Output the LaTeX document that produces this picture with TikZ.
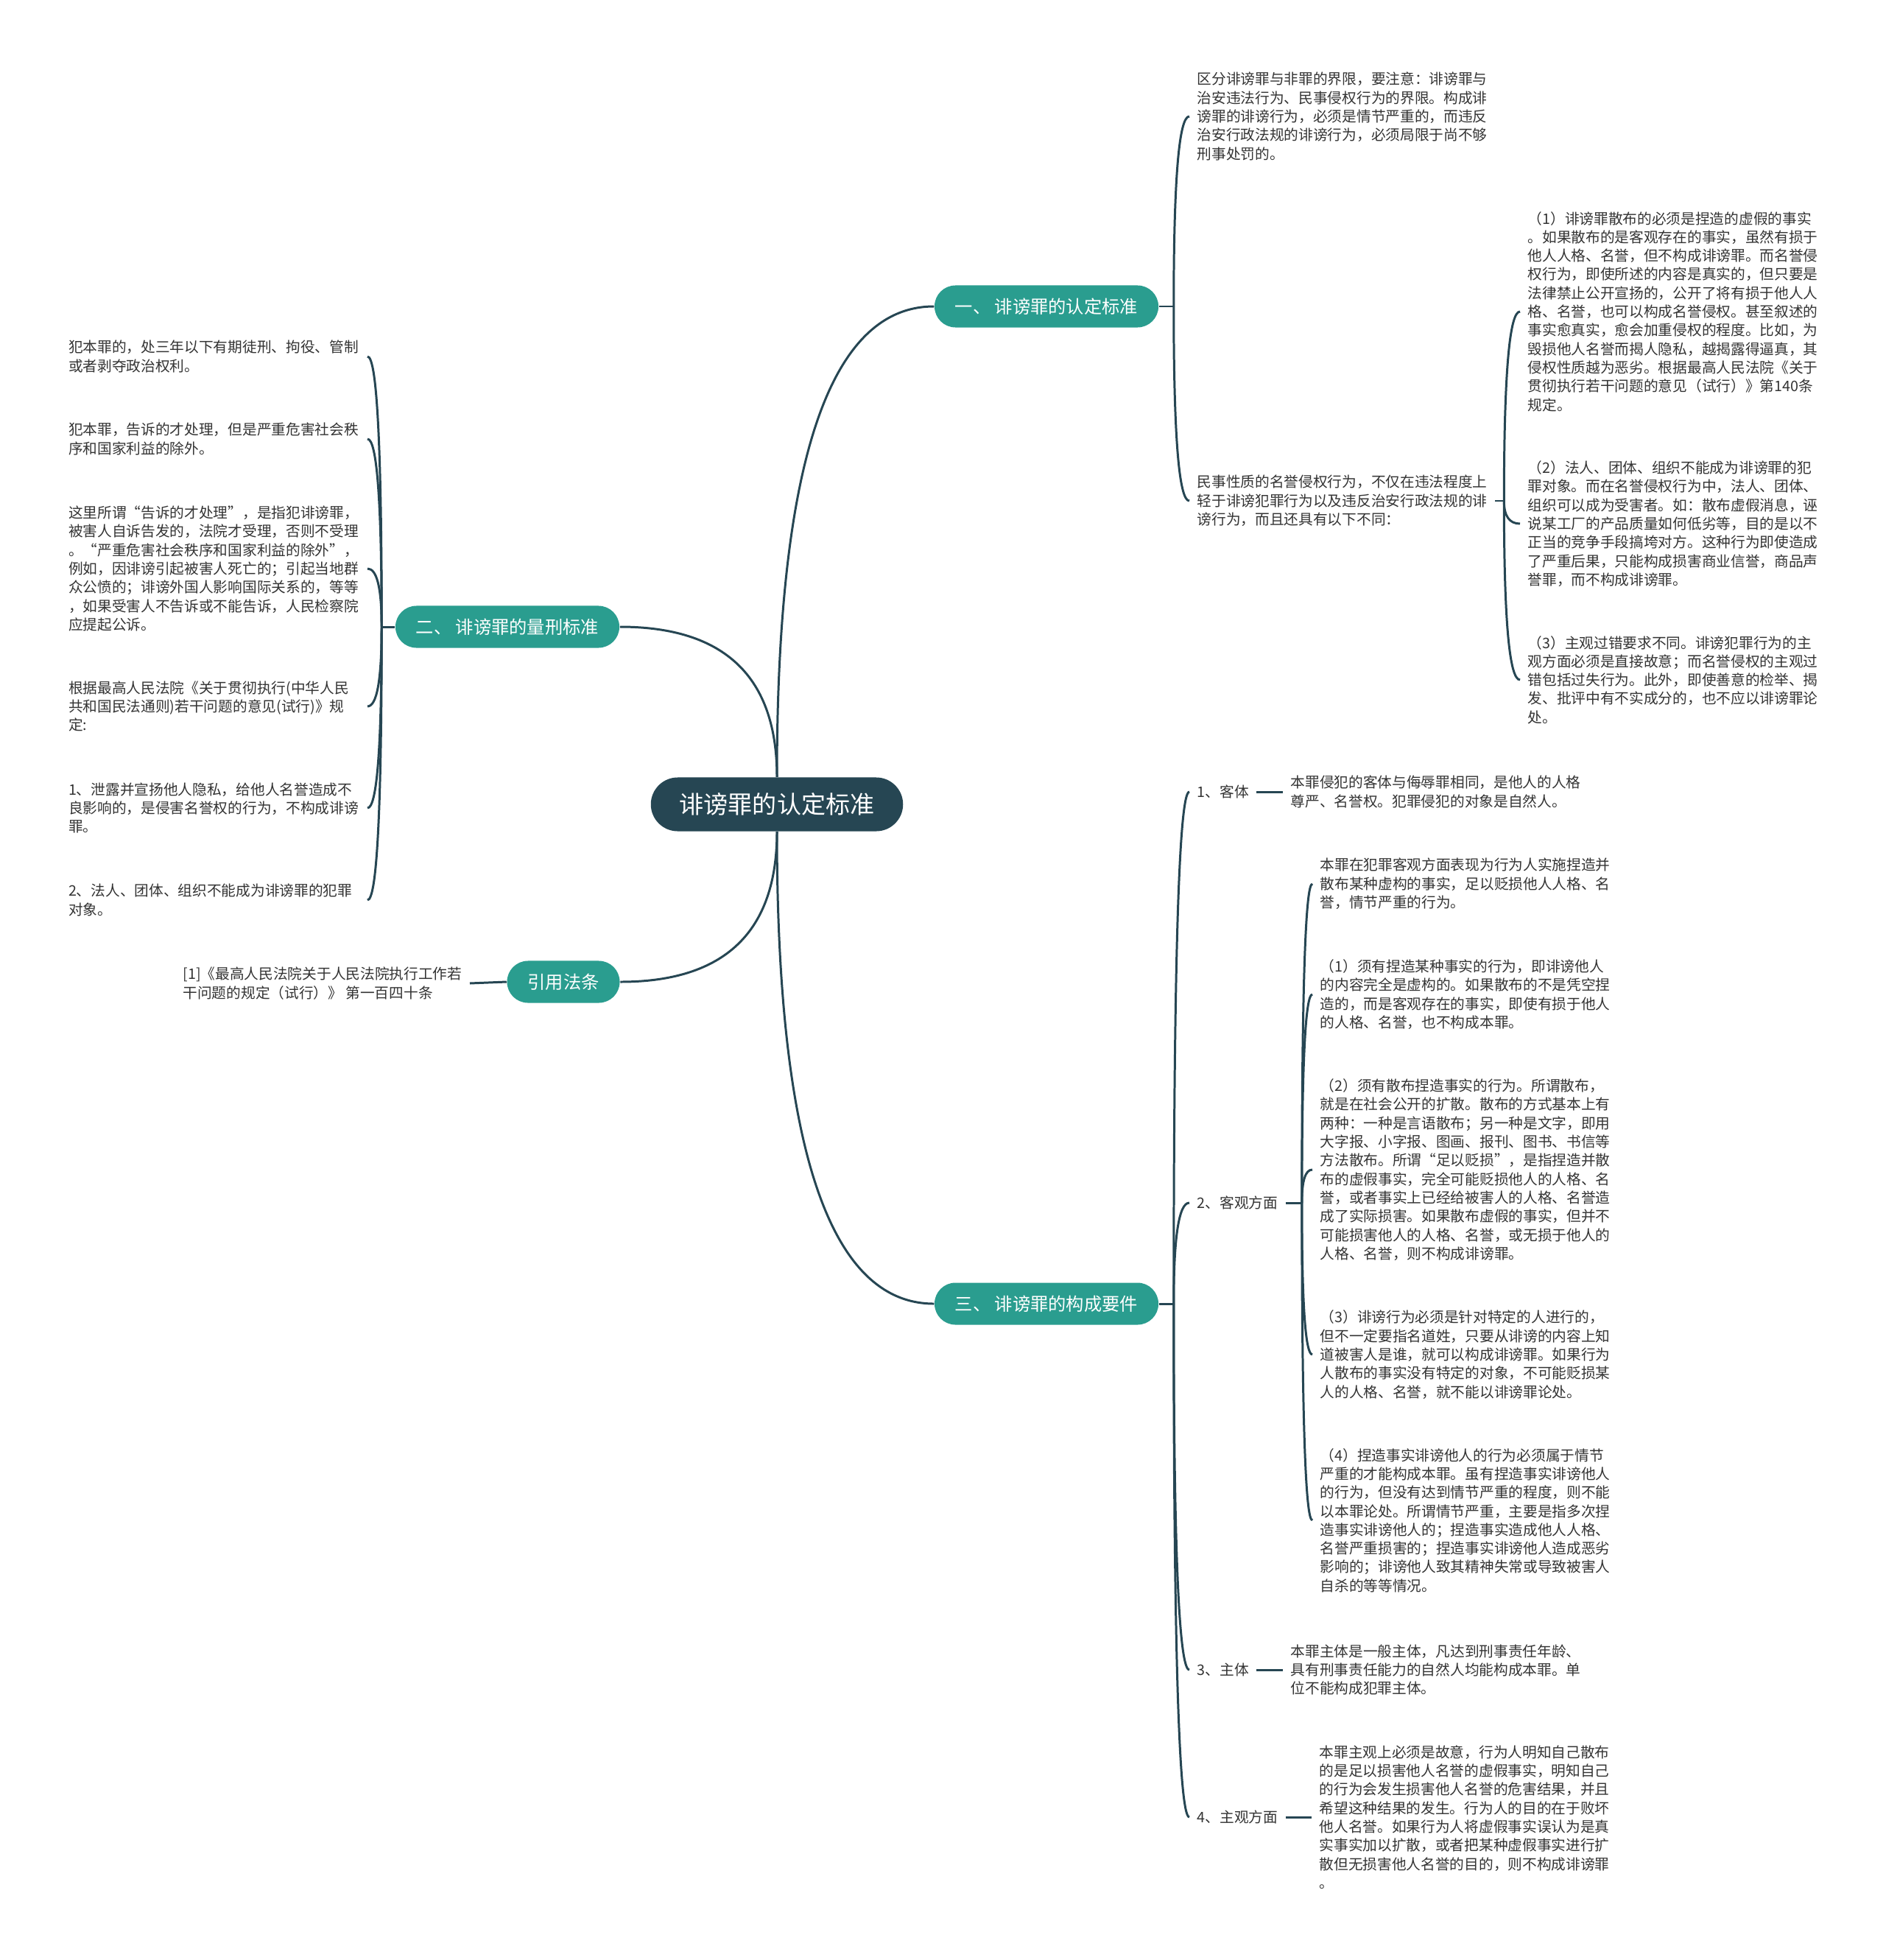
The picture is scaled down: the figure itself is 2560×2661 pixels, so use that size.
\documentclass[tikz,border=0pt]{standalone}
\usepackage{fontspec}
\setmainfont{Noto Sans CJK SC}
\usepackage{xcolor}
\usetikzlibrary{calc}
\definecolor{rootcol}{RGB}{38,70,83}
\definecolor{mapgreen}{RGB}{42,157,143}
\newcommand{\txtfont}{\fontsize{5.6pt}{7.2pt}\selectfont}
\newcommand{\curvelink}[2]{\draw[link] (#1) .. controls ($(#1)!0.667!(#1 |- #2)$) and ($(#2)!0.667!(#1 |- #2)$) .. (#2);}

\begin{document}
\begin{tikzpicture}[x=0.01cm,y=-0.01cm,
  root/.style={fill=rootcol,text=white,rounded corners=0.365cm,minimum height=0.73cm,
               inner xsep=0.39cm,font=\fontsize{9.4pt}{11pt}\selectfont},
  branch/.style={fill=mapgreen,text=white,rounded corners=0.285cm,minimum height=0.57cm,
                 inner xsep=0.28cm,font=\fontsize{6.9pt}{8pt}\selectfont},
  txt/.style={align=left,inner xsep=0.1cm,inner ysep=0.05cm,font=\txtfont,text=black!80},
  ltxt/.style={txt,text width=4cm,inner xsep=0.05cm},
  link/.style={draw=rootcol,line width=0.85pt}]
\useasboundingbox (0,0) rectangle (2560,2661);

% centre and main branches
\node[root] (root) at (1055,1092) {诽谤罪的认定标准};
\node[branch] (b1) at (1421,416) {一、 诽谤罪的认定标准};
\node[branch] (b2) at (689,851) {二、 诽谤罪的量刑标准};
\node[branch] (b3) at (1421,1770) {三、 诽谤罪的构成要件};
\node[branch] (b4) at (765,1333) {引用法条};
\curvelink{root.north}{b1.west}
\curvelink{root.north}{b2.east}
\curvelink{root.south}{b3.west}
\curvelink{root.south}{b4.east}

% branch 1
\node[txt,anchor=west] (t1a) at (1615,158) {区分诽谤罪与非罪的界限，要注意：诽谤罪与\\治安违法行为、民事侵权行为的界限。构成诽\\谤罪的诽谤行为，必须是情节严重的，而违反\\治安行政法规的诽谤行为，必须局限于尚不够\\刑事处罚的。};
\node[txt,anchor=west] (t1b) at (1615,680) {民事性质的名誉侵权行为，不仅在违法程度上\\轻于诽谤犯罪行为以及违反治安行政法规的诽\\谤行为，而且还具有以下不同：};
\coordinate (j1) at ($(b1.east)+(20,0)$);
\draw[link] (b1.east) -- (j1);
\curvelink{j1}{t1a.west}
\curvelink{j1}{t1b.west}

\node[txt,anchor=west] (t2a) at (2064,423) {（1）诽谤罪散布的必须是捏造的虚假的事实\\。如果散布的是客观存在的事实，虽然有损于\\他人人格、名誉，但不构成诽谤罪。而名誉侵\\权行为，即使所述的内容是真实的，但只要是\\法律禁止公开宣扬的，公开了将有损于他人人\\格、名誉，也可以构成名誉侵权。甚至叙述的\\事实愈真实，愈会加重侵权的程度。比如，为\\毁损他人名誉而揭人隐私，越揭露得逼真，其\\侵权性质越为恶劣。根据最高人民法院《关于\\贯彻执行若干问题的意见（试行）》第140条\\规定。};
\node[txt,anchor=west] (t2b) at (2064,711) {（2）法人、团体、组织不能成为诽谤罪的犯\\罪对象。而在名誉侵权行为中，法人、团体、\\组织可以成为受害者。如：散布虚假消息，诬\\说某工厂的产品质量如何低劣等，目的是以不\\正当的竞争手段搞垮对方。这种行为即使造成\\了严重后果，只能构成损害商业信誉，商品声\\誉罪，而不构成诽谤罪。};
\node[txt,anchor=west] (t2c) at (2064,923) {（3）主观过错要求不同。诽谤犯罪行为的主\\观方面必须是直接故意；而名誉侵权的主观过\\错包括过失行为。此外，即使善意的检举、揭\\发、批评中有不实成分的，也不应以诽谤罪论\\处。};
\coordinate (j1b) at ($(t1b.east)+(12,0)$);
\draw[link] (t1b.east) -- (j1b);
\curvelink{j1b}{t2a.west}
\curvelink{j1b}{t2b.west}
\curvelink{j1b}{t2c.west}

% branch 2
\node[ltxt,anchor=east] (l1) at (499,484) {犯本罪的，处三年以下有期徒刑、拘役、管制\\或者剥夺政治权利。};
\node[ltxt,anchor=east] (l2) at (499,596) {犯本罪，告诉的才处理，但是严重危害社会秩\\序和国家利益的除外。};
\node[ltxt,anchor=east] (l3) at (499,772) {这里所谓“告诉的才处理”，是指犯诽谤罪，\\被害人自诉告发的，法院才受理，否则不受理\\。“严重危害社会秩序和国家利益的除外”，\\例如，因诽谤引起被害人死亡的；引起当地群\\众公愤的；诽谤外国人影响国际关系的，等等\\，如果受害人不告诉或不能告诉，人民检察院\\应提起公诉。};
\node[ltxt,anchor=east] (l4) at (499,959) {根据最高人民法院《关于贯彻执行(中华人民\\共和国民法通则)若干问题的意见(试行)》规\\定:};
\node[ltxt,anchor=east] (l5) at (499,1097) {1、泄露并宣扬他人隐私，给他人名誉造成不\\良影响的，是侵害名誉权的行为，不构成诽谤\\罪。};
\node[ltxt,anchor=east] (l6) at (499,1222) {2、法人、团体、组织不能成为诽谤罪的犯罪\\对象。};
\coordinate (j2) at ($(b2.west)+(-18,0)$);
\draw[link] (b2.west) -- (j2);
\curvelink{j2}{l1.east}
\curvelink{j2}{l2.east}
\curvelink{j2}{l3.east}
\curvelink{j2}{l4.east}
\curvelink{j2}{l5.east}
\curvelink{j2}{l6.east}

% branch 4
\node[txt,anchor=east] (r1) at (638,1335) {[1]《最高人民法院关于人民法院执行工作若\\干问题的规定（试行）》 第一百四十条};
\draw[link] (b4.west) -- (r1.east);

% branch 3
\node[txt,anchor=west] (k1) at (1615,1075) {1、客体};
\node[txt,anchor=west] (k2) at (1615,1633) {2、客观方面};
\node[txt,anchor=west] (k3) at (1615,2267) {3、主体};
\node[txt,anchor=west] (k4) at (1615,2467) {4、主观方面};
\coordinate (j3) at ($(b3.east)+(20,0)$);
\draw[link] (b3.east) -- (j3);
\curvelink{j3}{k1.west}
\curvelink{j3}{k2.west}
\curvelink{j3}{k3.west}
\curvelink{j3}{k4.west}

\node[txt,anchor=west] (k1t) at (1742,1075) {本罪侵犯的客体与侮辱罪相同，是他人的人格\\尊严、名誉权。犯罪侵犯的对象是自然人。};
\draw[link] (k1.east) -- (k1t.west);
\node[txt,anchor=west] (k3t) at (1742,2267) {本罪主体是一般主体，凡达到刑事责任年龄、\\具有刑事责任能力的自然人均能构成本罪。单\\位不能构成犯罪主体。};
\draw[link] (k3.east) -- (k3t.west);
\node[txt,anchor=west] (k4t) at (1781,2467) {本罪主观上必须是故意，行为人明知自己散布\\的是足以损害他人名誉的虚假事实，明知自己\\的行为会发生损害他人名誉的危害结果，并且\\希望这种结果的发生。行为人的目的在于败坏\\他人名誉。如果行为人将虚假事实误认为是真\\实事实加以扩散，或者把某种虚假事实进行扩\\散但无损害他人名誉的目的，则不构成诽谤罪\\。};
\draw[link] (k4.east) -- (k4t.west);

\node[txt,anchor=west] (o1) at (1782,1200) {本罪在犯罪客观方面表现为行为人实施捏造并\\散布某种虚构的事实，足以贬损他人人格、名\\誉，情节严重的行为。};
\node[txt,anchor=west] (o2) at (1782,1350) {（1）须有捏造某种事实的行为，即诽谤他人\\的内容完全是虚构的。如果散布的不是凭空捏\\造的，而是客观存在的事实，即使有损于他人\\的人格、名誉，也不构成本罪。};
\node[txt,anchor=west] (o3) at (1782,1588) {（2）须有散布捏造事实的行为。所谓散布，\\就是在社会公开的扩散。散布的方式基本上有\\两种：一种是言语散布；另一种是文字，即用\\大字报、小字报、图画、报刊、图书、书信等\\方法散布。所谓“足以贬损”，是指捏造并散\\布的虚假事实，完全可能贬损他人的人格、名\\誉，或者事实上已经给被害人的人格、名誉造\\成了实际损害。如果散布虚假的事实，但并不\\可能损害他人的人格、名誉，或无损于他人的\\人格、名誉，则不构成诽谤罪。};
\node[txt,anchor=west] (o4) at (1782,1839) {（3）诽谤行为必须是针对特定的人进行的，\\但不一定要指名道姓，只要从诽谤的内容上知\\道被害人是谁，就可以构成诽谤罪。如果行为\\人散布的事实没有特定的对象，不可能贬损某\\人的人格、名誉，就不能以诽谤罪论处。};
\node[txt,anchor=west] (o5) at (1782,2064) {（4）捏造事实诽谤他人的行为必须属于情节\\严重的才能构成本罪。虽有捏造事实诽谤他人\\的行为，但没有达到情节严重的程度，则不能\\以本罪论处。所谓情节严重，主要是指多次捏\\造事实诽谤他人的；捏造事实造成他人人格、\\名誉严重损害的；捏造事实诽谤他人造成恶劣\\影响的；诽谤他人致其精神失常或导致被害人\\自杀的等等情况。};
\coordinate (j3b) at ($(k2.east)+(22,0)$);
\draw[link] (k2.east) -- (j3b);
\curvelink{j3b}{o1.west}
\curvelink{j3b}{o2.west}
\curvelink{j3b}{o3.west}
\curvelink{j3b}{o4.west}
\curvelink{j3b}{o5.west}
\end{tikzpicture}
\end{document}
